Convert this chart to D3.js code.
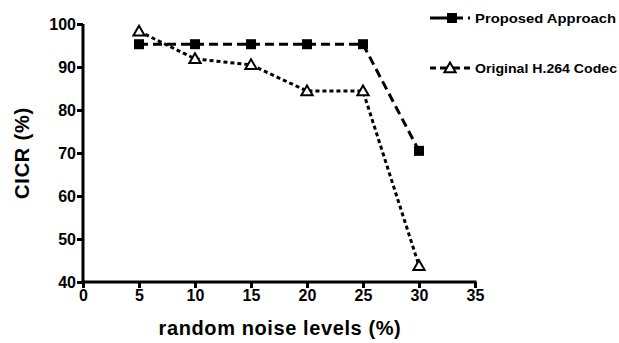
<!DOCTYPE html>
<html>
<head>
<meta charset="utf-8">
<script src="https://cdn.jsdelivr.net/npm/d3@7"></script>
<style>
  body { margin: 0; background: #fff; }
  svg text { font-family: "Liberation Sans", Arial, sans-serif; font-weight: bold; fill: #000; }
</style>
</head>
<body>
<div id="chart"></div>
<script>
// data
const noiseLevels = [5, 10, 15, 20, 25, 30];
const proposed = [95.3, 95.3, 95.3, 95.3, 95.3, 70.5];
const original = [98.3, 91.9, 90.5, 84.4, 84.4, 43.8];
const xTicks = [0, 5, 10, 15, 20, 25, 30, 35];
const yTicks = [40, 50, 60, 70, 80, 90, 100];
const seriesNames = ["Proposed Approach", "Original H.264 Codec"];

const width = 619, height = 343;
const svg = d3.select("#chart").append("svg")
  .attr("width", width)
  .attr("height", height);

const xScale = d3.scaleLinear().domain([0, 35]).range([83, 475]);
const yScale = d3.scaleLinear().domain([40, 100]).range([282, 24]);

// axes
const xAxis = d3.axisBottom(xScale).tickValues(xTicks).tickSize(6).tickPadding(2);
const gx = svg.append("g")
  .attr("transform", `translate(0,${yScale(40)})`)
  .call(xAxis);
gx.select(".domain").attr("d", `M${xScale(0) - 1.5},0H${xScale(35) + 1.5}`);

const yAxis = d3.axisLeft(yScale).tickValues(yTicks).tickSize(6).tickPadding(1);
const gy = svg.append("g")
  .attr("transform", `translate(${xScale(0)},0)`)
  .call(yAxis);
gy.select(".domain").attr("d", `M0,${yScale(100)}V${yScale(40) + 1.5}`);

svg.selectAll(".domain").attr("stroke", "#000").attr("stroke-width", 3);
svg.selectAll(".tick line").attr("stroke", "#000").attr("stroke-width", 3);
[gx, gy].forEach(g => g.attr("font-size", 16).attr("font-weight", "bold")
  .attr("font-family", "'Liberation Sans', Arial, sans-serif"));
svg.selectAll(".tick text").attr("fill", "#000");

// axis titles
svg.append("text")
  .attr("x", 280).attr("y", 335)
  .attr("text-anchor", "middle")
  .style("font-size", "20px")
  .style("letter-spacing", "0.6px")
  .text("random noise levels (%)");

svg.append("text")
  .attr("transform", `translate(29,${153}) rotate(-90)`)
  .attr("text-anchor", "middle")
  .style("font-size", "20px")
  .style("letter-spacing", "0.8px")
  .text("CICR (%)");

const line = d3.line()
  .x((d, i) => xScale(noiseLevels[i]))
  .y(d => yScale(d));

// original series (dotted, triangles)
svg.append("path")
  .datum(original)
  .attr("d", line)
  .attr("fill", "none")
  .attr("stroke", "#000")
  .attr("stroke-width", 3)
  .attr("stroke-dasharray", "4,3");

// proposed series (dashed, squares)
svg.append("path")
  .datum(proposed)
  .attr("d", line)
  .attr("fill", "none")
  .attr("stroke", "#000")
  .attr("stroke-width", 3)
  .attr("stroke-dasharray", "9,5");

const tri = d3.symbol().type(d3.symbolTriangle).size(55);

svg.selectAll("rect.sq")
  .data(proposed)
  .enter()
  .append("rect")
  .attr("class", "sq")
  .attr("x", (d, i) => xScale(noiseLevels[i]) - 5)
  .attr("y", d => yScale(d) - 5)
  .attr("width", 10)
  .attr("height", 10)
  .attr("fill", "#000");

svg.selectAll("path.tri")
  .data(original)
  .enter()
  .append("path")
  .attr("class", "tri")
  .attr("d", tri)
  .attr("transform", (d, i) => `translate(${xScale(noiseLevels[i])},${yScale(d) + 1})`)
  .attr("fill", "#fff")
  .attr("stroke", "#000")
  .attr("stroke-width", 2);

// legend
const legend = svg.append("g");
const legY = [18, 68];
legend.append("line")
  .attr("x1", 430).attr("x2", 472).attr("y1", legY[0]).attr("y2", legY[0])
  .attr("stroke", "#000").attr("stroke-width", 3).attr("stroke-dasharray", "33,5,2,20");
legend.append("rect")
  .attr("x", 447).attr("y", legY[0] - 5).attr("width", 10).attr("height", 10).attr("fill", "#000");
legend.append("line")
  .attr("x1", 430).attr("x2", 470).attr("y1", legY[1]).attr("y2", legY[1])
  .attr("stroke", "#000").attr("stroke-width", 3).attr("stroke-dasharray", "6,4,20,4,6");
legend.append("path")
  .attr("d", tri)
  .attr("transform", `translate(450,${legY[1] + 1})`)
  .attr("fill", "#fff").attr("stroke", "#000").attr("stroke-width", 2);

const legLen = [141, 142];
legend.selectAll("text")
  .data(seriesNames)
  .enter()
  .append("text")
  .attr("x", 475)
  .attr("y", (d, i) => legY[i] + 5)
  .attr("textLength", (d, i) => legLen[i])
  .attr("lengthAdjust", "spacingAndGlyphs")
  .style("font-size", "13px")
  .text(d => d);
</script>
</body>
</html>
